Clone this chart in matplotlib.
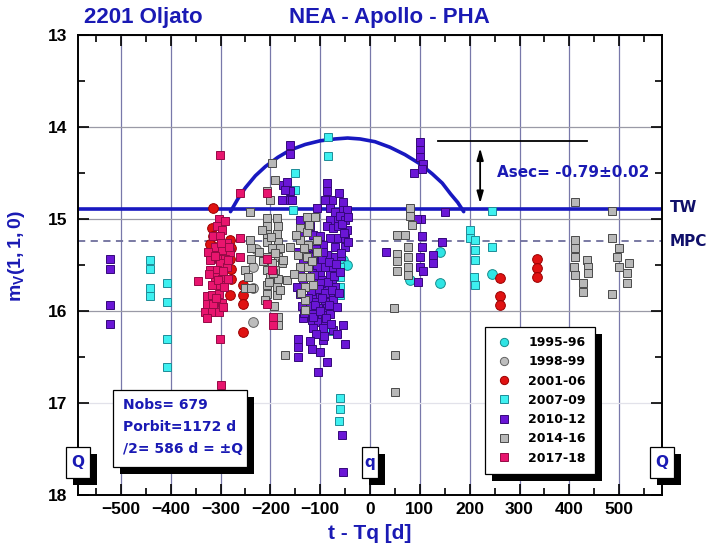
import matplotlib
matplotlib.use("Agg")
import matplotlib.pyplot as plt
import matplotlib.patheffects as pe
from matplotlib.patches import Rectangle
from matplotlib.ticker import MultipleLocator

plt.rcParams["mathtext.fontset"] = "custom"
plt.rcParams["mathtext.bf"] = "Liberation Sans:bold"

AZUL = "#1a1ab4"
AZUL_LINEA = "#1818c0"
ARIAL = ["Liberation Sans", "DejaVu Sans"]

# --- observaciones por campaña: t - Tq [d] y magnitud reducida ---
t_9596 = [-55, -47, -80, 80, 141, 141, 244]
m_9596 = [15.45, 15.50, 15.41, 15.66, 15.36, 15.70, 15.60]

t_9899 = [-234, -234, -234, -229]
m_9899 = [15.52, 15.75, 16.12, 15.33]

t_0106 = [-315, -318, -315, -281, -278, -281, -278, -278, -281, -254, -254,
          -254, -254, -312, -320, -322, -308, 261, 261, 261, 335, 335, 335]
m_0106 = [14.88, 15.10, 15.19, 15.23, 15.32, 15.43, 15.54, 15.65, 15.83, 15.72, 15.83,
          15.92, 16.23, 15.30, 15.42, 15.27, 15.38, 15.64, 15.84, 15.93, 15.43, 15.53, 15.63]

t_0709 = [-441, -441, -441, -441, -407, -407, -407, -407, -84, -84, -151, -150,
          -154, -80, -60, -60, -60, -60, -80, -60, -60, -62,
          201, 201, 211, 211, 211, 208, 211, 244, 244]
m_0709 = [15.45, 15.54, 15.75, 15.84, 15.70, 15.90, 16.30, 16.61, 14.11, 14.32, 14.50, 14.68,
          14.90, 14.83, 15.52, 15.63, 15.74, 15.83, 16.22, 16.95, 17.06, 17.20,
          15.12, 15.21, 15.23, 15.34, 15.45, 15.63, 15.72, 14.91, 15.30]

t_1012 = [-521, -521, -521, -521,
          -161, -161, -174, -161, -177, -161, -167, -171, -157,
          -87, -87, -77, -54, -90, -54, -64, -107, -80, -70, -47, -60,
          -80, -141, -120, -87, -74, -64, -50, -47,
          -141, -114, -100, -80, -64, -50, -127, -94, -70, -50,
          -145, -107, -87, -70, -114, -97,
          -124, -107, -90, -74, -141, -117, -100, -80,
          -134, -114, -97, -77, -147, -127, -107, -87, -70,
          -141, -117, -100, -80, -131, -110, -90, -74,
          -137, -120, -104, -87, -114, -97, -80,
          -134, -117, -104, -90, -114, -94, -74, -54,
          -145, -145, -145, -117, -94, -50, -104, -57, -54,
          -135, -122, -108, -95, -83, -68, -58, -128, -112, -98, -85, -72, -60,
          -118, -103, -90, -77, -63, -125, -110, -96, -82, -67, -132, -115, -101,
          -88, -108, -93, -78, -120, -100, -86, -66, -56, -52, -62, -45, -58, -44,
          33, 100, 100, 100, 107, 88, 104, 150, 103, 95, 104, 104, 100, 100,
          127, 127, 97, 144, 107]
m_1012 = [15.44, 15.54, 15.94, 16.14,
          14.20, 14.29, 14.63, 14.70, 14.79, 14.79, 14.60, 14.69, 14.79,
          14.61, 14.70, 14.79, 14.81, 14.79, 14.90, 15.01, 14.88, 14.88, 14.92, 14.90, 14.97,
          15.01, 15.01, 15.08, 15.08, 15.10, 15.08, 15.01, 15.12,
          15.19, 15.17, 15.19, 15.21, 15.21, 15.21, 15.30, 15.28, 15.30, 15.30,
          15.36, 15.37, 15.39, 15.41, 15.45, 15.45,
          15.52, 15.52, 15.52, 15.52, 15.59, 15.59, 15.61, 15.61,
          15.66, 15.68, 15.66, 15.70, 15.74, 15.74, 15.75, 15.75, 15.74,
          15.81, 15.83, 15.83, 15.83, 15.88, 15.90, 15.90, 15.88,
          15.95, 15.95, 15.97, 15.97, 16.03, 16.04, 16.03,
          16.08, 16.10, 16.12, 16.10, 16.19, 16.19, 16.21, 16.15,
          16.30, 16.39, 16.50, 16.41, 16.32, 16.36, 16.66, 17.35, 17.75,
          15.46, 15.40, 15.33, 15.36, 15.47, 15.49, 15.40, 15.63, 15.61, 15.70, 15.68, 15.62, 15.58,
          15.78, 15.76, 15.80, 15.77, 15.80, 15.86, 15.93, 15.86, 15.94, 15.96, 16.02, 16.06, 16.00,
          16.08, 16.25, 16.27, 16.14, 16.33, 16.45, 16.55, 16.25, 15.05, 15.15, 14.72, 14.98, 15.37, 15.25,
          15.36, 14.16, 14.25, 14.33, 14.40, 14.50, 14.46, 14.92, 15.00, 15.00, 15.19, 15.30, 15.41, 15.52,
          15.39, 15.48, 15.68, 15.25, 15.57]

t_1416 = [-241, -241, -238, -238, -251, -251, -238, -245,
          -197, -190, -207, -201,
          -207, -187, -207, -184, -207, -187, -207, -184, -197, -181, -207, -184,
          -197, -177, -207, -190, -201, -184, -207, -187, -207, -187, -184, -184,
          -171, -174, -167,
          -216, -199, -190, -214, -195, -203, -180, -222, -210, -193,
          -127, -110, -141, -127, -141, -124, -144, -127, -107, -141, -124,
          -137, -120, -131, -131, -131, -107,
          -148, -133, -117, -152, -138, -115, -160, -122,
          80, 80, 84, 70, 54, 77, 54, 77, 54, 77, 54, 77, 48, 50, 50,
          412, 412, 412, 412, 410, 435, 437, 437, 427, 427, 412,
          486, 486, 499, 495, 499, 515, 515, 486, 520]
m_1416 = [14.92, 15.23, 15.32, 15.43, 15.55, 15.75, 15.75, 15.63,
          14.39, 14.58, 14.70, 14.79,
          14.99, 14.99, 15.08, 15.08, 15.16, 15.16, 15.25, 15.25, 15.32, 15.32, 15.41, 15.41,
          15.48, 15.48, 15.55, 15.55, 15.63, 15.65, 15.72, 15.74, 15.81, 15.83, 16.06, 16.15,
          16.48, 15.45, 15.66,
          15.12, 15.20, 15.37, 15.46, 15.59, 15.68, 15.77, 15.36, 15.88, 15.95,
          14.98, 14.98, 15.10, 15.14, 15.23, 15.28, 15.39, 15.41, 15.36, 15.52, 15.52,
          15.63, 15.63, 15.74, 15.88, 15.99, 15.23,
          15.17, 15.32, 15.46, 15.60, 15.80, 15.72, 15.30, 15.06,
          14.88, 14.97, 15.07, 15.17, 15.17, 15.30, 15.38, 15.41, 15.46, 15.52, 15.57, 15.61, 15.97, 16.48, 16.88,
          14.81, 15.23, 15.32, 15.41, 15.52, 15.45, 15.52, 15.59, 15.70, 15.79, 15.61,
          14.91, 15.21, 15.32, 15.41, 15.52, 15.59, 15.70, 15.81, 15.48]

t_1718 = [-301, -261, -207, -301, -300, -345,
          -304, -291, -308, -298, -315, -301, -288, -311, -298, -281, -304, -291,
          -321, -301, -288, -321, -308, -295, -311, -298, -284, -301, -328, -318,
          -304, -328, -315, -298, -331, -318, -304, -328,
          -325, -312, -300, -286, -318, -306, -293, -324, -296, -283, -310,
          -261, -261, -207, -207, -197, -194, -194]
m_1718 = [14.30, 14.72, 14.72, 16.30, 16.80, 15.67,
          15.00, 15.02, 15.08, 15.12, 15.19, 15.19, 15.26, 15.30, 15.34, 15.36, 15.43, 15.43,
          15.45, 15.48, 15.52, 15.55, 15.55, 15.57, 15.63, 15.65, 15.65, 15.72, 15.84, 15.83,
          15.81, 15.92, 15.92, 15.91, 16.01, 16.01, 16.01, 16.08,
          15.36, 15.40, 15.26, 15.45, 15.72, 15.66, 15.74, 15.60, 15.96, 15.30, 15.86,
          15.21, 15.41, 15.43, 15.92, 15.55, 16.06, 16.15]

# curva secular ajustada alrededor del perihelio
arco_t = [-280, -265, -250, -230, -210, -185, -160, -130, -100, -70, -45,
          -20, 10, 40, 70, 100, 125, 145, 162, 176, 188]
arco_m = [14.92, 14.78, 14.66, 14.53, 14.43, 14.33, 14.25, 14.19, 14.15, 14.13, 14.12,
          14.13, 14.16, 14.22, 14.30, 14.40, 14.51, 14.61, 14.73, 14.82, 14.92]

m_tw = 14.895
m_mpc = 15.24
m_pico = 14.15
t_flecha = 221
m_flecha = (14.23, 14.83)
t_linea_pico = (137, 435)
semi_orbita = 586

series = [
    ("1995-96", t_9596, m_9596, "o", "#2fe4e4", "#178c8c"),
    ("1998-99", t_9899, m_9899, "o", "#bdbdbd", "#606060"),
    ("2001-06", t_0106, m_0106, "o", "#e01212", "#9a0000"),
    ("2007-09", t_0709, m_0709, "s", "#3ef0f0", "#1e8c98"),
    ("2010-12", t_1012, m_1012, "s", "#6a16d6", "#35087a"),
    ("2014-16", t_1416, m_1416, "s", "#b8b8b8", "#4a4a4a"),
    ("2017-18", t_1718, m_1718, "s", "#e8156e", "#960a46"),
]

fig = plt.figure(figsize=(7.06, 5.5), dpi=100)
ax = fig.add_axes([0.1105, 0.1, 0.8272, 0.8364])
ax.set_xlim(-semi_orbita, semi_orbita)
ax.set_ylim(18, 13)

ax.xaxis.set_major_locator(MultipleLocator(100))
ax.xaxis.set_minor_locator(MultipleLocator(50))
ax.yaxis.set_major_locator(MultipleLocator(1))
ax.yaxis.set_minor_locator(MultipleLocator(0.5))
ax.tick_params(which="both", direction="in", top=True, right=True, width=1.2, color="black")
ax.tick_params(which="major", length=8)
ax.tick_params(which="minor", length=5)
ax.tick_params(axis="x", pad=5)
ax.tick_params(axis="y", pad=8)
for lab in ax.get_xticklabels() + ax.get_yticklabels():
    lab.set_family(ARIAL)
    lab.set_fontweight("bold")
    lab.set_fontsize(12.5)
for sp in ax.spines.values():
    sp.set_linewidth(1.4)

ax.grid(True, axis="x", which="major", color="#7878aa", lw=0.9)
ax.grid(True, axis="y", which="major", color="#9a9aa6", lw=0.9)
for gl, y in zip(ax.yaxis.get_gridlines(), ax.get_yticks()):
    if y == 17:
        gl.set_color("#e2e2ea")
ax.set_axisbelow(True)

# niveles de referencia
ax.axhline(m_tw, color=AZUL_LINEA, lw=2.6, zorder=2)
ax.axhline(m_mpc, color="#6e6e9c", lw=1.3, ls=(0, (4, 3)), zorder=2)
ax.plot(arco_t, arco_m, color=AZUL_LINEA, lw=2.6, zorder=2, solid_capstyle="round")

for nombre, t, m, mk, cara, borde in series:
    ax.plot(t, m, ls="none", marker=mk, ms=7.0 if mk == "o" else 6.0,
            mfc=cara, mec=borde, mew=0.7, label=nombre, zorder=3)

# amplitud secular
ax.plot(t_linea_pico, [m_pico, m_pico], color="black", lw=1.3, zorder=4)
ax.annotate("", xy=(t_flecha, m_flecha[0]), xytext=(t_flecha, m_flecha[1]),
            arrowprops=dict(arrowstyle="<|-|>,head_length=0.7,head_width=0.2",
                            color="black", lw=1.3, shrinkA=0, shrinkB=0), zorder=4)
ax.text(254, 14.50, "Asec= -0.79±0.02", color=AZUL, fontsize=11, fontweight="bold",
        family="DejaVu Sans", ha="left", va="center", zorder=4)

ax.text(602, m_tw - 0.02, "TW", color="#10106a", fontsize=11, fontweight="bold",
        family="DejaVu Sans", ha="left", va="center", clip_on=False)
ax.text(602, m_mpc, "MPC", color="#10106a", fontsize=11, fontweight="bold",
        family="DejaVu Sans", ha="left", va="center", clip_on=False)

sombra = [pe.SimplePatchShadow(offset=(5, -5), shadow_rgbFace="black", alpha=1.0), pe.Normal()]

# cajas Q / q sobre los bordes y el perihelio
for t0, letra, ancho in [(-semi_orbita, "Q", 48), (semi_orbita, "Q", 48), (0, "q", 32)]:
    caja = Rectangle((t0 - ancho / 2, 17.48), ancho, 0.34, facecolor="white",
                     edgecolor="black", lw=0.9, clip_on=False, zorder=6)
    caja.set_path_effects(sombra)
    ax.add_patch(caja)
    ax.text(t0, 17.65, letra, color=AZUL, fontsize=11, fontweight="bold",
            family="DejaVu Sans", ha="center", va="center", zorder=7, clip_on=False)

# recuadro de datos orbitales
caja = Rectangle((0.0594, 0.0602), 0.2295, 0.1681, transform=ax.transAxes,
                 facecolor="white", edgecolor="black", lw=0.9, zorder=6)
caja.set_path_effects(sombra)
ax.add_patch(caja)
for yy, linea in zip([0.1957, 0.1472, 0.0993],
                     ["Nobs= 679", "Porbit=1172 d", "/2= 586 d = ±Q"]):
    ax.text(0.0765, yy, linea, transform=ax.transAxes, color=AZUL, fontsize=10,
            fontweight="bold", family="DejaVu Sans", ha="left", va="center", zorder=7)

leg = ax.legend(loc="upper left", bbox_to_anchor=(0.697, 0.366), borderaxespad=0,
                frameon=True, fancybox=False, framealpha=1, edgecolor="black",
                prop=dict(family="DejaVu Sans", weight="bold", size=9),
                borderpad=0.75, labelspacing=0.5, handletextpad=1.1, handlelength=1.6,
                markerscale=0.85)
leg.get_frame().set_linewidth(0.9)
leg.get_frame().set_path_effects(sombra)
leg.set_zorder(8)

ax.set_xlabel("t - Tq [d]", color=AZUL, fontsize=15, fontweight="bold", family=ARIAL)
ax.xaxis.set_label_coords(0.5, -0.062)
ax.set_ylabel(r"$\mathbf{m_V(1,1,0)}$", color=AZUL, fontsize=14)
ax.yaxis.set_label_coords(-0.087, 0.52)

fig.text(0.2025, 0.968, "2201 Oljato", color=AZUL, fontsize=16, fontweight="bold",
         family=ARIAL, ha="center", va="center")
fig.text(0.551, 0.968, "NEA - Apollo - PHA", color=AZUL, fontsize=16, fontweight="bold",
         family=ARIAL, ha="center", va="center")

fig.savefig("out.png", dpi=100)
